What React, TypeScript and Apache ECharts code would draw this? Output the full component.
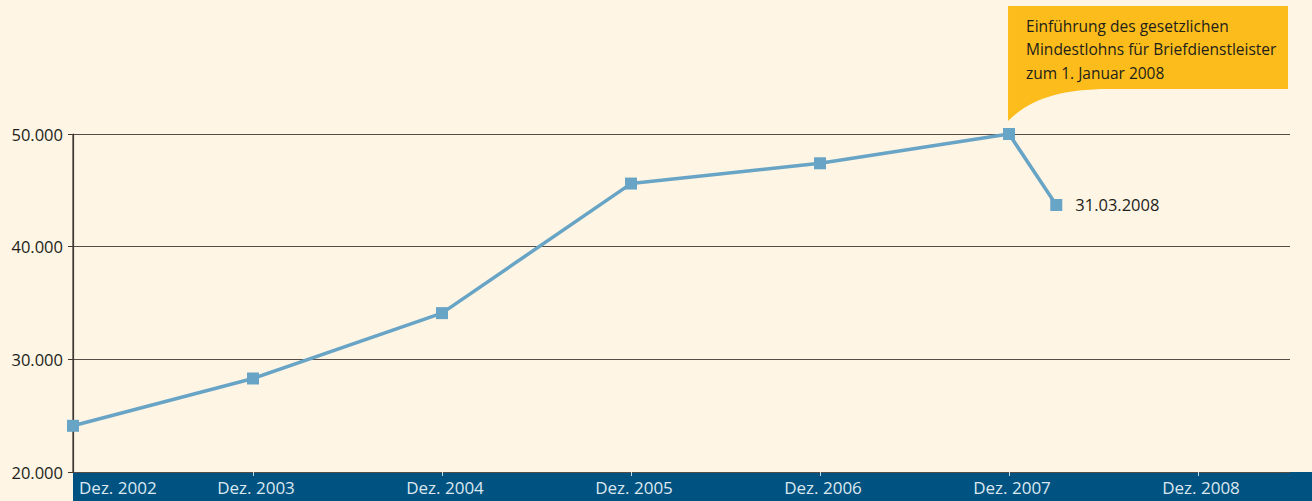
import React, { useEffect, useRef } from "react";
import * as echarts from "echarts";

// months counted from Dez. 2002
const xMonths = [0.57, 12, 24, 36, 48, 60, 63];
const employees = [24100, 28300, 34100, 45600, 47400, 50000, 43700];
const tickMonths = [12, 24, 36, 48, 60, 72];
const yearLabels = ["Dez. 2002", "Dez. 2003", "Dez. 2004", "Dez. 2005", "Dez. 2006", "Dez. 2007", "Dez. 2008"];
const lastPointLabel = "31.03.2008";
const calloutLines = [
  "Einführung des gesetzlichen",
  "Mindestlohns für Briefdienstleister",
  "zum 1. Januar 2008",
];
const calloutIndex = 5;

const FONT = "'Open Sans', 'Noto Sans', sans-serif";

let registered = false;
function ensureShape() {
  if (registered) return;
  registered = true;
  echarts.graphic.registerShape(
    "callout",
    echarts.graphic.extendPath("M0 0 H280 V83 H101 C51 83 21 94 0 115 Z", {})
  );
}

export default function App() {
  const ref = useRef<HTMLDivElement>(null);
  useEffect(() => {
    document.body.style.margin = "0";
    ensureShape();
    const chart = echarts.init(ref.current!, null, { renderer: "svg" });
    const data = xMonths.map((m, i) => {
      const d: any = { value: [m, employees[i]] };
      if (i === xMonths.length - 1) {
        d.label = {
          show: true,
          position: "right",
          distance: 13,
          formatter: lastPointLabel,
          color: "#221e1a",
          fontSize: 16.5,
          fontFamily: FONT,
        };
      }
      return d;
    });
    chart.setOption({
      animation: false,
      backgroundColor: "#fef5e4",
      grid: { left: 73, right: 22, top: 134, bottom: 29, containLabel: false },
      xAxis: {
        type: "value",
        min: xMonths[0],
        max: 77.84,
        z: 10,
        splitLine: { show: false },
        axisLine: { show: false },
        axisTick: {
          show: true,
          customValues: tickMonths,
          length: 4,
          lineStyle: { color: "#c9dbe6", width: 1 },
        },
        axisLabel: {
          customValues: [xMonths[0], ...tickMonths],
          formatter: (v: number) => yearLabels[Math.round(v / 12)],
          color: "#dce8f0",
          fontSize: 17,
          fontFamily: FONT,
          margin: 7,
          alignMinLabel: "left",
          padding: [0, 0, 0, 6],
        },
      },
      yAxis: {
        type: "value",
        min: 20000,
        max: 50000,
        interval: 10000,
        z: 3,
        axisLine: { show: true, onZero: false, lineStyle: { color: "#3e3832", width: 1.2 } },
        axisTick: { show: true, length: 5, lineStyle: { color: "#3e3832" } },
        splitLine: { show: true, lineStyle: { color: "#564e46", width: 1 } },
        axisLabel: {
          formatter: (v: number) => String(v).replace(/(\d)(?=(\d{3})+$)/g, "$1."),
          color: "#221e1a",
          fontSize: 16.5,
          fontFamily: FONT,
          margin: 10,
        },
      },
      series: [
        {
          type: "line",
          data,
          symbol: "rect",
          symbolSize: 12,
          lineStyle: { color: "#68a4c5", width: 3.5 },
          itemStyle: { color: "#68a4c5" },
          z: 5,
        },
      ],
    });
    const p = chart.convertToPixel({ gridIndex: 0 }, [xMonths[calloutIndex], employees[calloutIndex]]) as number[];
    const ox = p[0] - 1;
    const oy = p[1] - 128;
    const w = chart.getWidth();
    const h = chart.getHeight();
    const bandTop = chart.convertToPixel({ gridIndex: 0 }, [xMonths[0], 20000]) as number[];
    const axTop = chart.convertToPixel({ gridIndex: 0 }, [xMonths[0], 50000]) as number[];
    chart.setOption({
      graphic: [
        {
          type: "line",
          z: 2,
          shape: { x1: bandTop[0], y1: axTop[1], x2: bandTop[0], y2: bandTop[1] },
          style: { stroke: "#3e3832", lineWidth: 1.2 },
          silent: true,
        },
        {
          type: "rect",
          z: 1,
          shape: { x: bandTop[0], y: bandTop[1], width: w - bandTop[0], height: h - bandTop[1] },
          style: { fill: "#005380" },
          silent: true,
        },
        {
          type: "callout",
          x: ox,
          y: oy,
          z: 1,
          style: { fill: "#fbbc1c" },
          silent: true,
        },
        {
          type: "text",
          x: ox + 18,
          y: oy + 8,
          z: 2,
          style: {
            text: calloutLines.join("\n"),
            font: `15.5px ${FONT}`,
            lineHeight: 23.5,
            fill: "#221e1a",
          },
          silent: true,
        },
      ],
    });
    return () => chart.dispose();
  }, []);
  return <div ref={ref} style={{ width: 1312, height: 501 }} />;
}
